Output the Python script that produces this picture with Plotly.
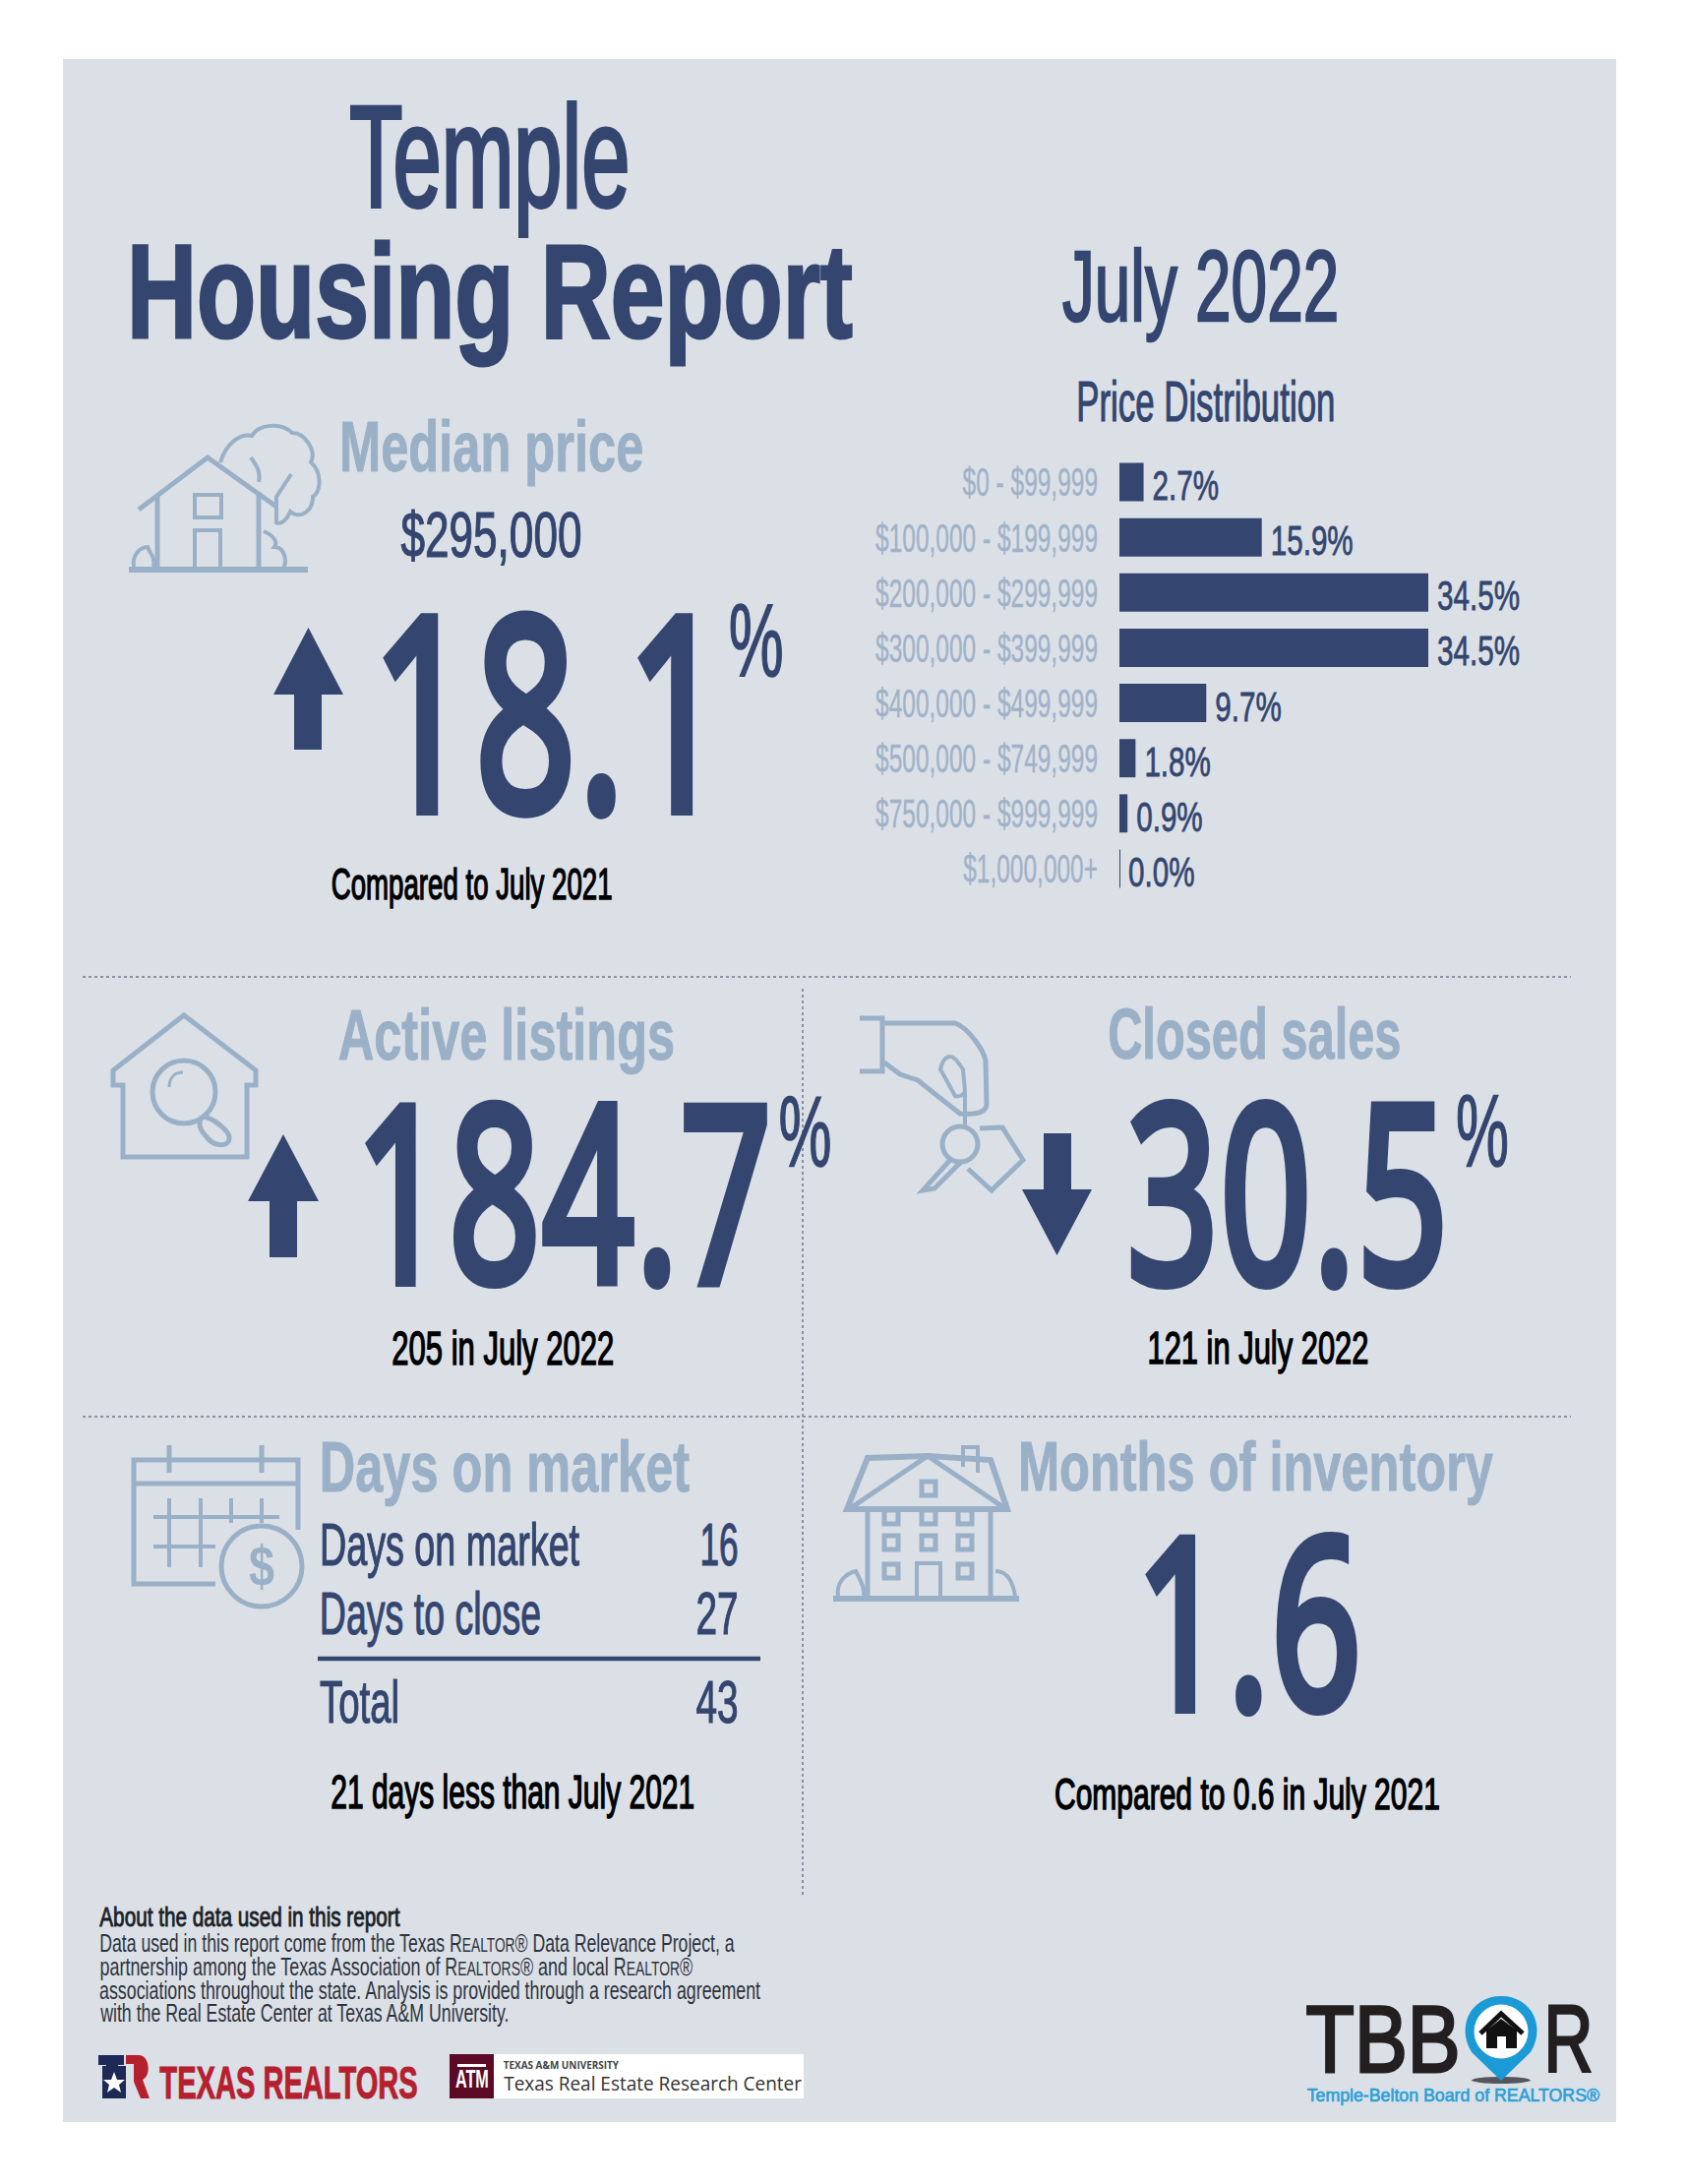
import json

import plotly.graph_objects as go

# bar chart data
price_bands = [
    "$0 - $99,999",
    "$100,000 - $199,999",
    "$200,000 - $299,999",
    "$300,000 - $399,999",
    "$400,000 - $499,999",
    "$500,000 - $749,999",
    "$750,000 - $999,999",
    "$1,000,000+",
]
price_share = [2.7, 15.9, 34.5, 34.5, 9.7, 1.8, 0.9, 0.0]

# headline figures
city = "Temple"
report_month = "July 2022"
median_price = "$295,000"
median_change = "18.1"
active_change = "184.7"
closed_change = "30.5"
months_inventory = "1.6"
dom_rows = [("Days on market", "16"), ("Days to close", "27"), ("Total", "43")]

about_lines = [
    "Data used in this report come from the Texas R<span style=\"font-size:20px\">EALTOR</span>® Data Relevance Project, a",
    "partnership among the Texas Association of R<span style=\"font-size:20px\">EALTORS</span>® and local R<span style=\"font-size:20px\">EALTOR</span>®",
    "associations throughout the state. Analysis is provided through a research agreement",
    "with the Real Estate Center at Texas A&M University.",
]

W, H = 1715, 2220
NAVY = "#34466f"
STEEL = "#9ab0c7"
TICK = "#a1b2c7"
PANEL = "#dbe0e7"
NARROW = "Liberation Sans Narrow, Liberation Sans, sans-serif"
BIG = "Open Sans, Liberation Sans, sans-serif"
CAP = 0.70

annotations = []
widths = []
thickness = []
spacing = []
shapes = []


def label(text, x0, x1, top, base, color=NAVY, bold=False, family=NARROW, thick=0, track=0):
    # x0/x1 = ink extent, top/base = cap top and baseline in page pixels
    # thick = outline added to the glyphs, so the box is pulled in to keep the ink extent
    top, base = top + thick / 2, base - thick / 2
    x0, x1 = x0 + thick * 0.35, x1 - thick * 0.35
    annotations.append(dict(
        text=text, x=(x0 + x1) / 2, y=(top + base) / 2, xref="x2", yref="y2",
        xanchor="center", yanchor="middle", showarrow=False,
        font=dict(family=family, size=(base - top) / CAP, color=color,
                  weight="bold" if bold else "normal"),
    ))
    widths.append(x1 - x0)
    thickness.append(thick)
    spacing.append(track)


def stroke(path, color=STEEL, width=5):
    shapes.append(dict(type="path", path=path, xref="x2", yref="y2",
                       line=dict(color=color, width=width)))


def fill(path, color=NAVY):
    shapes.append(dict(type="path", path=path, xref="x2", yref="y2",
                       fillcolor=color, line=dict(width=0)))


def ring(cx, cy, r, color=STEEL, width=5, fillcolor=None):
    shapes.append(dict(type="circle", x0=cx - r, x1=cx + r, y0=cy - r, y1=cy + r,
                       xref="x2", yref="y2", fillcolor=fillcolor,
                       line=dict(color=color, width=width)))


def hline(x0, x1, y, color="#8b93a3", width=2, dash="dot"):
    shapes.append(dict(type="line", x0=x0, x1=x1, y0=y, y1=y, xref="x2", yref="y2",
                       line=dict(color=color, width=width, dash=dash)))


def arrow(x0, x1, s0, s1, tip, head, stem_end):
    # head spans x0..x1, stem spans s0..s1; works for up and down arrows
    mid = (x0 + x1) / 2
    fill(f"M{mid},{tip} L{x1},{head} L{s1},{head} L{s1},{stem_end} "
         f"L{s0},{stem_end} L{s0},{head} L{x0},{head} Z")


# panel goes on paper refs so it sits under the bar subplot
shapes.append(dict(type="rect", xref="paper", yref="paper", layer="below",
                   x0=64 / W, x1=1643 / W, y0=1 - 2157 / H, y1=1 - 60 / H,
                   fillcolor=PANEL, line=dict(width=0)))

# separators
hline(84, 1597, 993)
hline(84, 1597, 1440)
shapes.append(dict(type="line", x0=816, x1=816, y0=1005, y1=1929, xref="x2", yref="y2",
                   line=dict(color="#8b93a3", width=2, dash="dot")))

# title block
label(city, 354, 642, 106, 212, thick=4)
label("Housing Report", 128, 868, 247, 345, bold=True, thick=3)
label(report_month, 1079, 1362, 254, 328, thick=2.5)
label("Price Distribution", 1094, 1358, 388, 429, thick=1.2)

# median price
label("Median price", 344, 654, 427, 479, STEEL, True, thick=1)
label(median_price, 407, 592, 521, 567, thick=1.2)
label(median_change, 374, 746, 617, 819, family=BIG, thick=12, track=4)
label("%", 740, 797, 613, 688, thick=1.5)
arrow(278, 349, 299, 327, 638, 706, 762)
label("Compared to July 2021", 336, 623, 882, 915, "#000000", thick=1.5)

# house and tree icon
stroke("M141,518 L211,465 L281,515")
stroke("M160,503 L160,576")
stroke("M263,500 L263,576")
stroke("M131,579 L313,579", width=6)
stroke("M198,503 L225,503 L225,526 L198,526 Z", width=4)
stroke("M198,576 L198,539 L224,539 L224,576", width=4)
stroke("M136,576 C134,565 142,556 150,556 C152,562 158,566 156,576", width=4)
stroke("M268,540 C280,545 282,552 279,556 C290,556 292,572 288,577", width=4)
stroke("M224,470 C230,450 245,440 256,443 C262,432 285,428 297,440 C310,440 322,458 316,470 "
       "C326,478 328,498 318,505 C318,520 305,528 295,520 C290,532 282,534 280,530", width=4)
stroke("M281,530 L281,505 L296,482", width=4)
stroke("M263,490 C265,480 262,475 255,465", width=4)

# active listings
label("Active listings", 343, 686, 1025, 1077, STEEL, True, thick=1)
label(active_change, 358, 791, 1114, 1298, family=BIG, thick=12, track=4)
label("%", 791, 846, 1113, 1186, thick=1.5)
arrow(252, 324, 274, 302, 1153, 1221, 1278)
label("205 in July 2022", 397, 624, 1353, 1388, "#000000", thick=1.5)
stroke("M187,1032 L260,1088 L260,1103 L251,1103 L251,1176 L125,1176 L125,1103 L115,1103 L115,1088 Z")
ring(187, 1110, 32)
stroke("M205,1135 C215,1135 235,1150 233,1158 C232,1166 218,1165 212,1158 C205,1150 200,1145 205,1135")
stroke("M172,1105 C172,1095 178,1090 186,1090", width=3)

# closed sales
label("Closed sales", 1126, 1425, 1025, 1076, STEEL, True, thick=1)
label(closed_change, 1142, 1478, 1114, 1299, family=BIG, thick=12, track=4)
label("%", 1479, 1534, 1112, 1186, thick=1.5)
arrow(1039, 1110, 1061, 1089, 1276, 1209, 1152)
label("121 in July 2022", 1166, 1392, 1353, 1387, "#000000", thick=1.5)
stroke("M874,1035 L897,1035 L897,1089 L874,1089")
stroke("M897,1040 L971,1040 C985,1045 1000,1068 1002,1078 L1003,1123 C1002,1132 990,1133 976,1132 "
       "L953,1114 L933,1098 L915,1092 L899,1080")
stroke("M956,1087 C958,1078 962,1074 966,1074 C972,1074 977,1085 979,1087 L981,1109 C980,1114 974,1115 971,1114 Z", width=4)
stroke("M981,1109 L981,1145", width=4)
ring(976, 1163, 18)
stroke("M966,1179 L938,1210 L950,1208 L978,1180")
stroke("M996,1147 L1019,1146 L1040,1179 L1008,1210 L984,1188")

# days on market
label("Days on market", 324, 701, 1465, 1516, STEEL, True, thick=1)
row_tops = [1548, 1618, 1708]
row_ends = [589, 550, 406]
value_starts = [711, 707, 707]
for (name, value), top, end, start in zip(dom_rows, row_tops, row_ends, value_starts):
    label(name, 324, end, top, top + 44, thick=1.2)
    label(value, start, 751, top, top + 44, thick=1.2)
hline(323, 773, 1686, NAVY, 4.5, "solid")
label("21 days less than July 2021", 335, 706, 1804, 1839, "#000000", thick=1.5)
stroke("M219,1610 L136,1610 L136,1484 L303,1484 L303,1555")
stroke("M136,1508 L303,1508")
stroke("M172,1469 L172,1497")
stroke("M266,1469 L266,1497")
stroke("M172,1523 L172,1593 M204,1523 L204,1593 M235,1523 L235,1548 M266,1523 L266,1548", width=4)
stroke("M156,1542 L284,1542 M156,1572 L219,1572", width=4)
ring(266, 1592, 41, fillcolor=PANEL)
label("$", 253, 279, 1572, 1612, STEEL, True, "Liberation Sans")

# months of inventory
label("Months of inventory", 1034, 1518, 1466, 1516, STEEL, True, thick=1)
label(months_inventory, 1151, 1390, 1554, 1733, family=BIG, thick=12, track=4)
label("Compared to 0.6 in July 2021", 1071, 1464, 1807, 1840, "#000000", thick=1.5)
stroke("M861,1534 L882,1482 L943,1480 L1007,1484 L1024,1534 Z", width=6)
stroke("M866,1532 L943,1480 L1020,1532", width=5)
stroke("M979,1491 L979,1471 L994,1471 L994,1497", width=4)
stroke("M882,1534 L882,1625 M1007,1534 L1007,1625")
stroke("M847,1625 L1036,1625", width=6)
stroke("M932,1625 L932,1589 L956,1589 L956,1625", width=4)
for wx, wy in [(944, 1513), (906, 1542), (944, 1542), (981, 1542), (906, 1568),
               (944, 1568), (981, 1568), (906, 1597), (981, 1597)]:
    stroke(f"M{wx - 7},{wy - 7} L{wx + 7},{wy - 7} L{wx + 7},{wy + 7} L{wx - 7},{wy + 7} Z", width=5)
stroke("M852,1622 C850,1610 858,1600 870,1597 C874,1605 880,1615 878,1622", width=4)
stroke("M1012,1597 C1025,1597 1030,1610 1032,1622", width=4)

# about text
label("About the data used in this report", 101, 407, 1938, 1958, "#1c1f26", thick=0.9)
about_x1 = [747, 704, 773, 517]
about_base = [1984, 2008, 2032, 2055]
for line, x1, base in zip(about_lines, about_x1, about_base):
    label(line, 101, x1, base - 18, base, "#2e333d")

# Texas Realtors mark
fill("M100,2089 L126,2089 L126,2099 L120,2099 L120,2133 L108,2133 L108,2099 L100,2099 Z", "#1d2a55")
fill("M104,2133 L104,2100 L128,2100 L128,2133 Z", "#1d2a55")
fill("M116,2106 L119,2114 L127,2114 L121,2119 L123,2127 L116,2122 L109,2127 L111,2119 L105,2114 L113,2114 Z", "#ffffff")
fill("M128,2089 L142,2089 C152,2090 154,2110 145,2114 L152,2133 L143,2133 L136,2116 L136,2098 L128,2098 Z", "#b5202f")
label("TEXAS REALTORS", 162, 425, 2099, 2133, "#b5202f", True, thick=1)

# A&M box
fill("M502,2088 L817,2088 L817,2133 L502,2133 Z", "#ffffff")
fill("M457,2088 L502,2088 L502,2133 L457,2133 Z", "#5c0a25")
fill("M465,2098 L494,2098 L494,2101 L465,2101 Z", "#ffffff")
label("ATM", 463, 497, 2104, 2122, "#ffffff", True, "Liberation Sans")
label("TEXAS A&M UNIVERSITY", 512, 630, 2094, 2102, "#444444", True, "Open Sans")
label("Texas Real Estate Research Center", 512, 815, 2110, 2124, "#333333", False, "Open Sans")

# TBBOR logo
label("TBB", 1326, 1485, 2037, 2107, "#231f20", False, "Liberation Sans", thick=3)
label("R", 1568, 1620, 2037, 2107, "#231f20", False, "Liberation Sans", thick=3)
shapes.append(dict(type="circle", x0=1496, x1=1556, y0=2111, y1=2118, xref="x2", yref="y2",
                   fillcolor="#55565c", line=dict(width=0)))
fill("M1526,2115 L1496,2086 C1480,2060 1495,2029 1526,2029 C1557,2029 1572,2060 1556,2086 Z", "#1b9ad6")
ring(1526, 2065, 27, "#ffffff", 1, "#ffffff")
stroke("M1505,2067 L1526,2047 L1548,2067", "#111111", 5)
fill("M1511,2064 L1526,2052 L1542,2064 L1542,2082 L1531,2082 L1531,2070 L1522,2070 L1522,2082 L1511,2082 Z", "#111111")
label("Temple-Belton Board of REALTORS®", 1328, 1626, 2123, 2136, "#2a9fd8", False, "Liberation Sans", thick=0.6)

# bars: axis at x=1138, 34.5% ends at x=1452
bar_px_per_pct = (1452 - 1138) / 34.5
bar_right = 1600
bars = go.Bar(
    x=price_share, y=price_bands, orientation="h",
    marker=dict(color=NAVY, line=dict(color=NAVY, width=[0] * 7 + [2])),
    text=[f"{v:.1f}%" for v in price_share], textposition="outside", cliponaxis=False,
    textfont=dict(family=NARROW, size=43, color=NAVY), constraintext="none",
    hoverinfo="skip",
)

fig = go.Figure(bars)
fig.update_layout(
    width=W, height=H, margin=dict(l=0, r=0, t=0, b=0, pad=0), autosize=False,
    paper_bgcolor="#ffffff", plot_bgcolor="rgba(0,0,0,0)", showlegend=False,
    bargap=0.307,
    xaxis=dict(domain=[1138 / W, bar_right / W], range=[0, (bar_right - 1138) / bar_px_per_pct],
               visible=False, fixedrange=True),
    yaxis=dict(domain=[1 - 911 / H, 1 - 462 / H], autorange="reversed", showgrid=False,
               showline=False, zeroline=False, ticks="", ticklabelstandoff=21, fixedrange=True,
               tickfont=dict(family=NARROW, size=41, color=TICK)),
    xaxis2=dict(domain=[0, 1], range=[0, W], visible=False, anchor="y2", fixedrange=True),
    yaxis2=dict(domain=[0, 1], range=[H, 0], visible=False, anchor="x2", fixedrange=True),
    shapes=shapes, annotations=annotations,
)

# no condensed font is installed, so squeeze the real text to the measured widths
post_script = """
document.body.style.margin = '0';
document.documentElement.style.overflow = 'hidden';
var gd = document.getElementById('{plot_id}');
var widths = WIDTHS;
var thick = THICK;
var track = TRACK;
function squeeze(el, k, side, dx, dy) {
  var b = el.getBBox();
  var ox = side === 'l' ? b.x : side === 'r' ? b.x + b.width : b.x + b.width / 2;
  var old = el.getAttribute('transform') || '';
  el.setAttribute('transform', old + ' translate(' + (ox + dx) + ',' + dy + ') scale(' + k + ',1) translate(' + (-ox) + ',0)');
}
function embolden(el, w) {
  el.style.stroke = el.style.fill;
  el.style.strokeWidth = w + 'px';
  el.style.strokeLinejoin = 'miter';
}
widths.forEach(function (w, i) {
  var el = gd.querySelector('.annotation[data-index="' + i + '"] text');
  if (!el) { return; }
  if (thick[i]) { embolden(el, thick[i]); }
  if (track[i]) { el.style.letterSpacing = track[i] + 'px'; }
  squeeze(el, w / el.getBBox().width, 'c', 0, 0);
});
var ticks = Array.from(gd.querySelectorAll('.ytick text'));
var tickMax = Math.max.apply(null, ticks.map(function (t) { return t.getBBox().width; }));
ticks.forEach(function (t) { embolden(t, 0.4); squeeze(t, 226 / tickMax, 'r', 0, 0); });
var vals = Array.from(gd.querySelectorAll('.bartext'));
var valMax = Math.max.apply(null, vals.map(function (t) { return t.getBBox().width; }));
vals.forEach(function (t) { embolden(t, 0.8); squeeze(t, 84 / valMax, 'l', 6, 3); });
""".replace("WIDTHS", json.dumps(widths)).replace("THICK", json.dumps(thickness)).replace("TRACK", json.dumps(spacing))

fig.write_html("out.html", post_script=post_script, config={"displayModeBar": False})
